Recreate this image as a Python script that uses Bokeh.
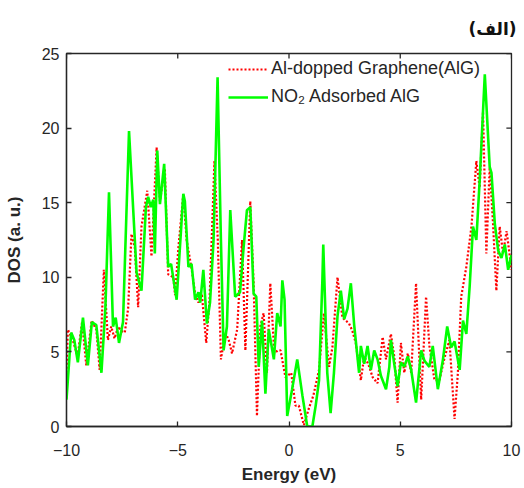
from bokeh.plotting import figure
from bokeh.models import FixedTicker, Legend, LegendItem
from bokeh.embed import file_html
from bokeh.resources import INLINE

# ---- data ----
x_ticks = [-10, -5, 0, 5, 10]
y_ticks = [0, 5, 10, 15, 20, 25]

alg_energy = [-10.0, -9.94, -9.72, -9.5, -9.3, -9.11, -8.87, -8.66, -8.51, -8.32, -8.14, -7.99,
              -7.84, -7.68, -7.53, -7.38, -7.23, -7.08, -6.93, -6.78, -6.63, -6.37, -6.18, -5.95,
              -5.8, -5.58, -5.43, -5.2, -5.12, -4.97, -4.75, -4.6, -4.37, -4.22, -4.07, -3.92,
              -3.72, -3.57, -3.35, -3.2, -3.06, -2.86, -2.71, -2.56, -2.33, -2.11, -1.96, -1.74,
              -1.59, -1.44, -1.29, -1.14, -0.99, -0.84, -0.66, -0.51, -0.38, -0.16, 0.1, 0.29,
              0.44, 0.67, 0.89, 1.1, 1.35, 1.57, 1.8, 1.95, 2.18, 2.4, 2.55, 2.7, 2.85, 3.0,
              3.23, 3.38, 3.56, 3.76, 3.98, 4.21, 4.36, 4.58, 4.73, 4.88, 5.03, 5.18, 5.34,
              5.49, 5.71, 5.94, 6.16, 6.31, 6.54, 6.76, 6.99, 7.21, 7.44, 7.59, 7.74, 7.97,
              8.2, 8.42, 8.57, 8.72, 8.87, 9.02, 9.17, 9.32, 9.47, 9.62, 9.78, 10.0]
alg_dos = [3.6, 6.5, 5.8, 4.7, 7.0, 4.1, 7.1, 6.5, 3.8, 10.5, 5.8, 6.7,
           5.9, 6.7, 6.4, 6.3, 7.9, 12.9, 12.0, 8.0, 13.4, 15.8, 11.4, 18.7,
           15.1, 17.3, 10.2, 10.0, 8.8, 12.0, 15.6, 12.5, 10.5, 8.9, 8.3, 8.9,
           5.6, 8.5, 17.8, 12.5, 4.5, 6.3, 5.8, 4.9, 6.5, 12.5, 5.1, 15.1,
           9.6, 0.7, 6.7, 7.6, 3.6, 9.6, 4.9, 5.1, 5.1, 3.3, 3.6, 1.4,
           1.4, 0.1, 1.2, 2.1, 3.8, 7.6, 4.0, 5.3, 10.0, 7.3, 7.1, 6.9, 6.4, 5.6,
           3.1, 4.7, 4.2, 3.3, 2.9, 6.0, 4.5, 6.2, 4.7, 1.6, 5.6, 3.6, 4.9,
           3.6, 9.6, 1.8, 8.7, 5.4, 3.1, 3.1, 4.6, 5.8, 0.5, 3.6, 8.7, 10.7,
           13.4, 17.8, 16.0, 21.1, 11.6, 17.4, 13.6, 9.1, 13.4, 11.6, 13.1, 10.5]

no2_energy = [-10.0, -9.79, -9.65, -9.49, -9.26, -9.04, -8.86, -8.66, -8.43, -8.25, -8.09, -7.91,
              -7.79, -7.64, -7.46, -7.19, -6.85, -6.63, -6.43, -6.33, -6.21, -6.1, -6.03, -5.92,
              -5.8, -5.61, -5.43, -5.3, -5.05, -4.75, -4.68, -4.52, -4.38, -4.22, -4.07, -3.99,
              -3.85, -3.69, -3.55, -3.39, -3.21, -3.06, -2.94, -2.79, -2.64, -2.42, -2.2, -2.04,
              -1.89, -1.74, -1.59, -1.47, -1.36, -1.21, -1.06, -0.91, -0.68, -0.53, -0.38, -0.3,
              -0.2, -0.08, 0.14, 0.37, 0.6, 0.82, 1.05, 1.2, 1.35, 1.5, 1.54, 1.72, 1.87, 2.02,
              2.18, 2.33, 2.48, 2.63, 2.78, 2.93, 3.15, 3.23, 3.38, 3.53, 3.68, 3.83, 3.98,
              4.13, 4.36, 4.51, 4.58, 4.73, 4.88, 5.03, 5.18, 5.34, 5.49, 5.71, 5.94, 6.09,
              6.31, 6.46, 6.69, 6.92, 7.11, 7.29, 7.44, 7.67, 7.82, 7.97, 8.12, 8.27, 8.42,
              8.57, 8.8, 9.02, 9.1, 9.25, 9.4, 9.55, 9.7, 9.85, 10.0]
no2_dos = [1.8, 6.3, 5.8, 4.3, 7.3, 4.1, 7.0, 6.8, 3.6, 8.0, 15.7, 6.7,
           7.3, 5.6, 7.0, 19.8, 10.3, 9.1, 14.7, 15.4, 14.7, 15.2, 11.6, 18.5,
           14.9, 17.6, 10.7, 10.9, 8.5, 15.6, 15.1, 10.7, 10.9, 8.5, 9.0, 8.3,
           10.5, 6.9, 8.3, 12.5, 23.4, 12.5, 5.1, 6.7, 14.5, 8.7, 9.0, 12.0,
           14.5, 14.7, 8.9, 8.7, 4.0, 7.1, 2.2, 6.5, 4.5, 7.6, 6.7, 9.8,
           8.5, 0.7, 2.5, 4.5, 2.1, 0.0, 0.0, 1.4, 3.1, 9.8, 12.2, 3.6, 0.9, 3.6,
           7.4, 9.1, 7.2, 7.9, 9.6, 6.8, 3.6, 5.4, 4.2, 5.4, 3.8, 5.1, 4.5,
           3.4, 2.5, 4.0, 5.8, 4.2, 2.7, 4.3, 4.0, 4.7, 3.8, 1.6, 5.1, 4.4,
           4.0, 5.4, 2.5, 4.5, 6.7, 5.3, 5.7, 3.8, 7.1, 6.2, 9.4, 13.4, 12.5,
           16.5, 23.6, 17.4, 17.0, 13.6, 11.8, 11.3, 12.2, 10.5, 11.5]

series_labels = ["Al-dopped Graphene(AlG)", "NO\u2082 Adsorbed AlG"]
panel_tag = "(الف)"

FONT = "Liberation Sans"
TXT = "#262626"
FRAME = "#262626"

X0, X1 = x_ticks[0], x_ticks[-1]
Y0, Y1 = y_ticks[0], y_ticks[-1]

p = figure(width=524, height=488, output_backend="svg", toolbar_location=None,
           x_range=(X0, X1), y_range=(Y0, Y1),
           min_border_left=66, min_border_right=13, min_border_top=53, min_border_bottom=62)
p.background_fill_color = "white"
p.border_fill_color = "white"
p.outline_line_color = FRAME
p.outline_line_width = 1.3
p.grid.visible = False

r_alg = p.line(alg_energy, alg_dos, line_color="#ff0000", line_width=2.2, line_dash="2 2")
r_no2 = p.line(no2_energy, no2_dos, line_color="#00ff00", line_width=2.6)

# tick marks on the top and right edges of the box (MATLAB "box on")
tick_len_y = 0.33   # ~5px in data units of y
tick_len_x = 0.23   # ~5px in data units of x
p.segment(x0=x_ticks, y0=[Y1] * len(x_ticks), x1=x_ticks, y1=[Y1 - tick_len_y] * len(x_ticks),
          line_color=FRAME, line_width=1.3)
p.segment(x0=[X1] * len(y_ticks), y0=y_ticks, x1=[X1 - tick_len_x] * len(y_ticks), y1=y_ticks,
          line_color=FRAME, line_width=1.3)

for ax, ticks in ((p.xaxis[0], x_ticks), (p.yaxis[0], y_ticks)):
    ax.ticker = FixedTicker(ticks=ticks)
    ax.major_tick_in = 5
    ax.major_tick_out = 0
    ax.minor_tick_line_color = None
    ax.axis_line_color = FRAME
    ax.axis_line_width = 1.3
    ax.major_tick_line_color = FRAME
    ax.major_tick_line_width = 1.3
    ax.major_label_text_font = FONT
    ax.major_label_text_color = TXT
    ax.major_label_text_font_size = "16px"
    ax.axis_label_text_font = FONT
    ax.axis_label_text_font_style = "bold"
    ax.axis_label_text_font_size = "17px"
    ax.axis_label_text_color = TXT

p.xaxis[0].major_label_standoff = 17
p.yaxis[0].major_label_standoff = 7
p.xaxis[0].axis_label = "Energy (eV)"
p.yaxis[0].axis_label = "DOS (a. u.)"
p.xaxis[0].axis_label_standoff = 6
p.yaxis[0].axis_label_standoff = 15

p.title.text = panel_tag
p.title.align = "right"
p.title.text_font = "DejaVu Sans"
p.title.text_font_size = "17px"
p.title.text_font_style = "bold"
p.title.text_color = "#111111"
p.title.standoff = 29
p.title.offset = -5

legend = Legend(items=[LegendItem(label=series_labels[0], renderers=[r_alg]),
                       LegendItem(label=series_labels[1], renderers=[r_no2])],
                location=(162, 319))
legend.border_line_color = None
legend.background_fill_alpha = 0
legend.label_text_font = FONT
legend.label_text_font_size = "18px"
legend.label_text_color = TXT
legend.glyph_width = 40
legend.glyph_height = 20
legend.label_height = 20
legend.spacing = 7
legend.padding = 0
legend.margin = 0
legend.label_standoff = 3
p.add_layout(legend)

open("out.html", "w").write(file_html(p, INLINE))
